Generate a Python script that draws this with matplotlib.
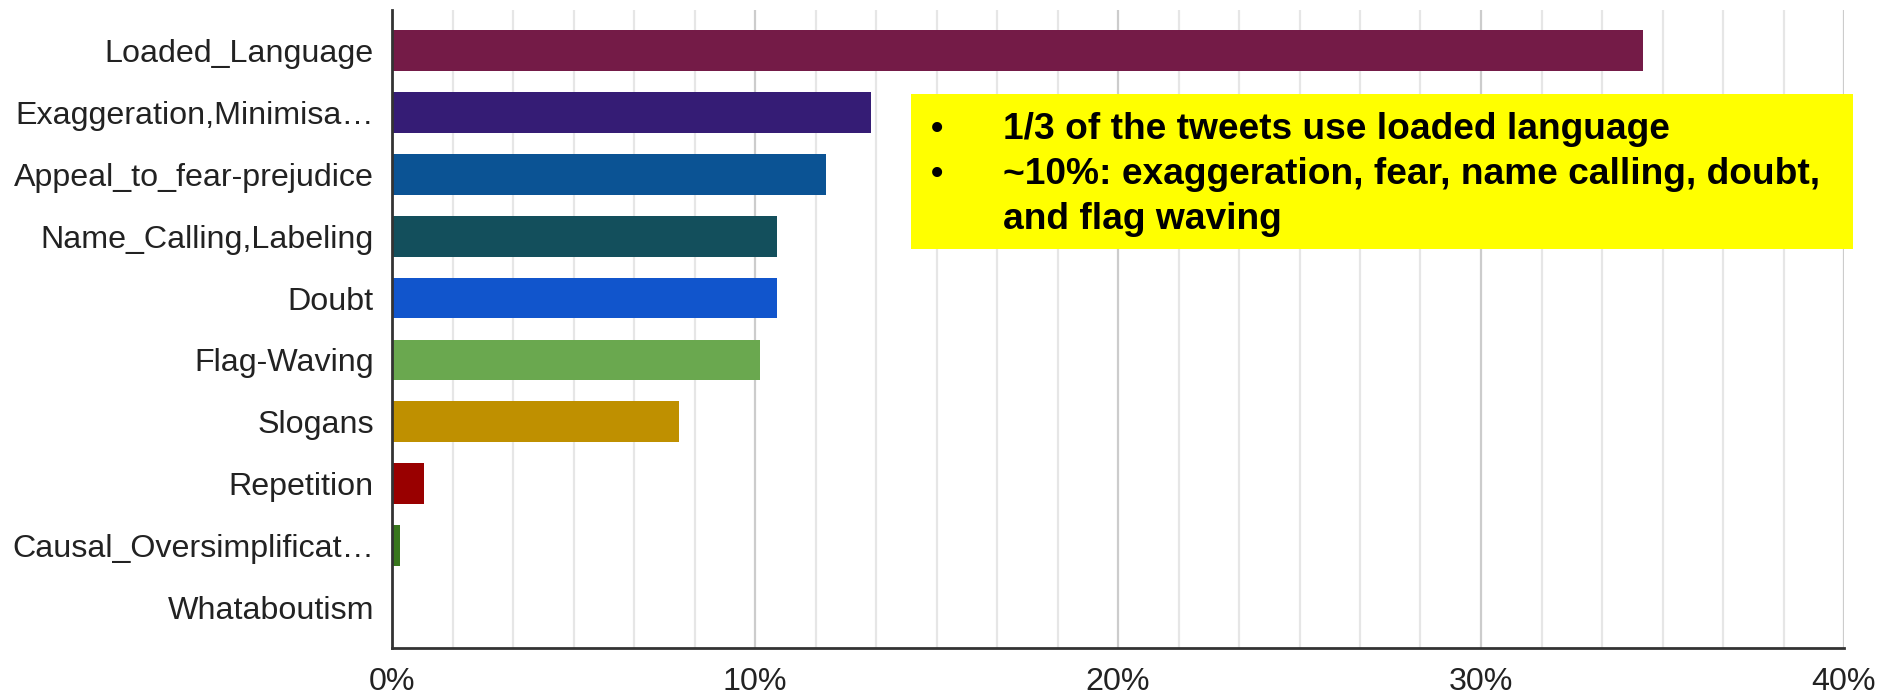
import matplotlib
matplotlib.use('Agg')
import matplotlib.pyplot as plt
from matplotlib.patches import Rectangle
from matplotlib.ticker import MultipleLocator, FuncFormatter

plt.rcParams['font.family'] = ['Liberation Sans', 'DejaVu Sans']

# share of tweets per propaganda technique (%)
techniques = ['Loaded_Language', 'Exaggeration,Minimisa\u2026', 'Appeal_to_fear-prejudice',
              'Name_Calling,Labeling', 'Doubt', 'Flag-Waving', 'Slogans', 'Repetition',
              'Causal_Oversimplificat\u2026', 'Whataboutism']
share = [34.45, 13.2, 11.95, 10.6, 10.6, 10.15, 7.9, 0.88, 0.22, 0.0]
colors = ['#741b47', '#351c75', '#0b5394', '#134f5c', '#1155cc',
          '#6aa84f', '#bf9000', '#990000', '#38761d', '#cccccc']

notes = ['1/3 of the tweets use loaded language',
         '~10%: exaggeration, fear, name calling, doubt,',
         'and flag waving']

fig = plt.figure(figsize=(18.8, 6.95), dpi=100)
ax = fig.add_axes([392/1880, 1-648/695, (1844-392)/1880, 638/695])

ypos = list(range(len(techniques)))
ax.barh(ypos, share, height=0.66, color=colors, zorder=3)

ax.set_xlim(0, 40)
ax.set_ylim(len(techniques) - 1 + 0.65, -0.65)
ax.set_yticks(ypos)
ax.set_yticklabels(techniques)
ax.xaxis.set_major_locator(MultipleLocator(10))
ax.xaxis.set_minor_locator(MultipleLocator(10/6))
ax.xaxis.set_major_formatter(FuncFormatter(lambda v, p: '%d%%' % v))

ax.grid(True, axis='x', which='minor', color='#e6e6e6', lw=1.6, zorder=0)
ax.grid(True, axis='x', which='major', color='#cccccc', lw=1.6, zorder=0)
ax.set_axisbelow(True)

for s in ['top', 'right']:
    ax.spines[s].set_visible(False)
for s in ['left', 'bottom']:
    ax.spines[s].set_color('#333333')
    ax.spines[s].set_linewidth(2)
    ax.spines[s].set_zorder(4)

ax.tick_params(axis='both', which='both', length=0, labelsize=23.2, colors='#222222')
ax.tick_params(axis='x', pad=14)
ax.tick_params(axis='y', pad=13)

# yellow call-out box with the two takeaways
fig.patches.append(Rectangle((911/1880, 1-249/695), (1853-911)/1880, 155/695,
                             transform=fig.transFigure, facecolor='#ffff00',
                             edgecolor='none', zorder=5))
baselines = [139, 184, 229]
for i, (line, yb) in enumerate(zip(notes, baselines)):
    if i < 2:
        fig.text(937/1880, 1-yb/695, '\u2022', ha='center', va='baseline',
                 fontsize=25, fontweight='bold', color='black', zorder=6)
    fig.text(1003/1880, 1-yb/695, line, ha='left', va='baseline',
             fontsize=26.7, fontweight='bold', color='black', zorder=6)

fig.savefig('out.png', dpi=100)
